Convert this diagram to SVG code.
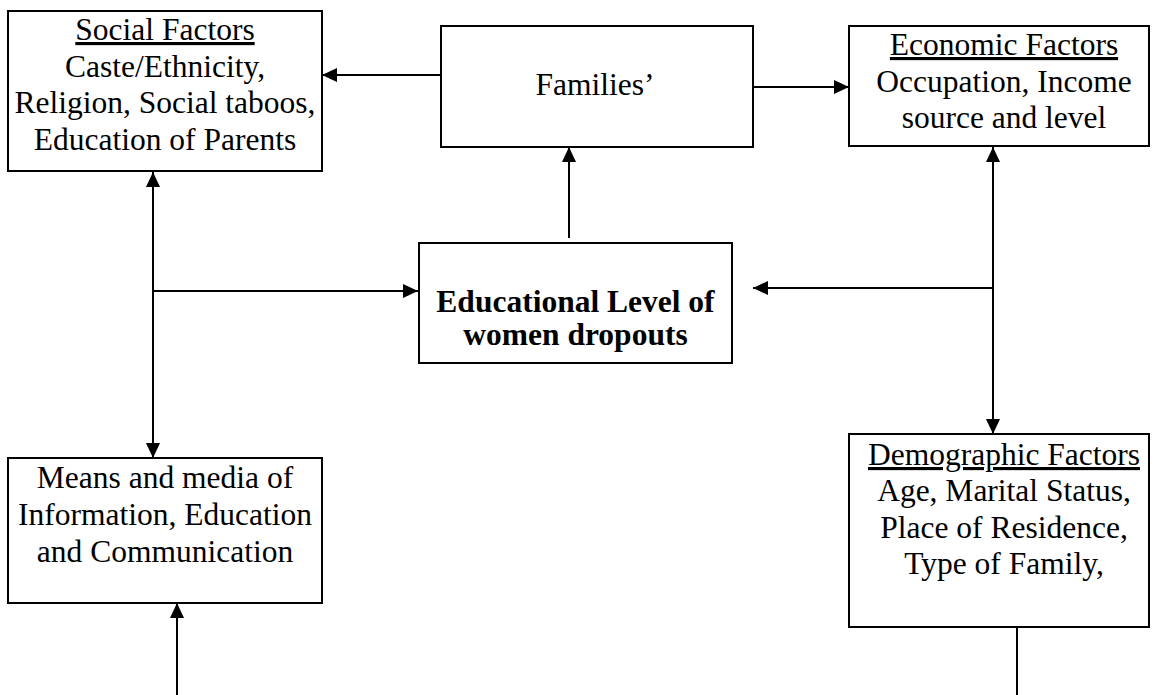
<svg xmlns="http://www.w3.org/2000/svg" width="1160" height="695" viewBox="0 0 1160 695">
<style>
.box{fill:#fff;stroke:#000;stroke-width:2}
.t{font-family:"Liberation Serif","Times New Roman",serif;font-size:31.5px;fill:#000;text-anchor:middle}
.b{font-weight:bold}
.u{text-decoration:underline}
.c{stroke:#000;stroke-width:2;fill:none}
</style>
<defs>
<marker id="ah" markerUnits="userSpaceOnUse" markerWidth="15" markerHeight="14" refX="15" refY="7" orient="auto-start-reverse">
<path d="M0,0 L15,7 L0,14 z" fill="#000"/>
</marker>
</defs>
<rect width="1160" height="695" fill="#fff"/>
<g id="connectors">
<line class="c" x1="441" y1="75" x2="322" y2="75" marker-end="url(#ah)"/>
<line class="c" x1="753" y1="87" x2="849" y2="87" marker-end="url(#ah)"/>
<line class="c" x1="569" y1="238" x2="569" y2="147" marker-end="url(#ah)"/>
<line class="c" x1="153" y1="172" x2="153" y2="458" marker-start="url(#ah)" marker-end="url(#ah)"/>
<line class="c" x1="153" y1="291" x2="418" y2="291" marker-end="url(#ah)"/>
<line class="c" x1="993" y1="147" x2="993" y2="434" marker-start="url(#ah)" marker-end="url(#ah)"/>
<line class="c" x1="993" y1="288" x2="753" y2="288" marker-end="url(#ah)"/>
<line class="c" x1="177" y1="695" x2="177" y2="603" marker-end="url(#ah)"/>
<line class="c" x1="1017" y1="627" x2="1017" y2="695"/>
</g>
<g id="social">
<rect class="box" x="8" y="11" width="314" height="160"/>
<text class="t u" x="165" y="40">Social Factors</text>
<text class="t" x="165" y="76.5">Caste/Ethnicity,</text>
<text class="t" x="165" y="113">Religion, Social taboos,</text>
<text class="t" x="165" y="149.5">Education of Parents</text>
</g>
<g id="families">
<rect class="box" x="441" y="26" width="312" height="121"/>
<text class="t" x="595" y="95">Families’</text>
</g>
<g id="economic">
<rect class="box" x="849" y="26" width="300" height="120"/>
<text class="t u" x="1004" y="55">Economic Factors</text>
<text class="t" x="1004" y="92">Occupation, Income</text>
<text class="t" x="1004" y="128">source and level</text>
</g>
<g id="center">
<rect class="box" x="419" y="243" width="313" height="120"/>
<text class="t b" x="575.5" y="312">Educational Level of</text>
<text class="t b" x="575.5" y="345">women dropouts</text>
</g>
<g id="means">
<rect class="box" x="8" y="458" width="314" height="145"/>
<text class="t" x="165" y="488">Means and media of</text>
<text class="t" x="165" y="525">Information, Education</text>
<text class="t" x="165" y="562">and Communication</text>
</g>
<g id="demographic">
<rect class="box" x="849" y="434" width="300" height="193"/>
<text class="t u" x="1004" y="465">Demographic Factors</text>
<text class="t" x="1004" y="501">Age, Marital Status,</text>
<text class="t" x="1004" y="538">Place of Residence,</text>
<text class="t" x="1004" y="574">Type of Family,</text>
</g>
</svg>
